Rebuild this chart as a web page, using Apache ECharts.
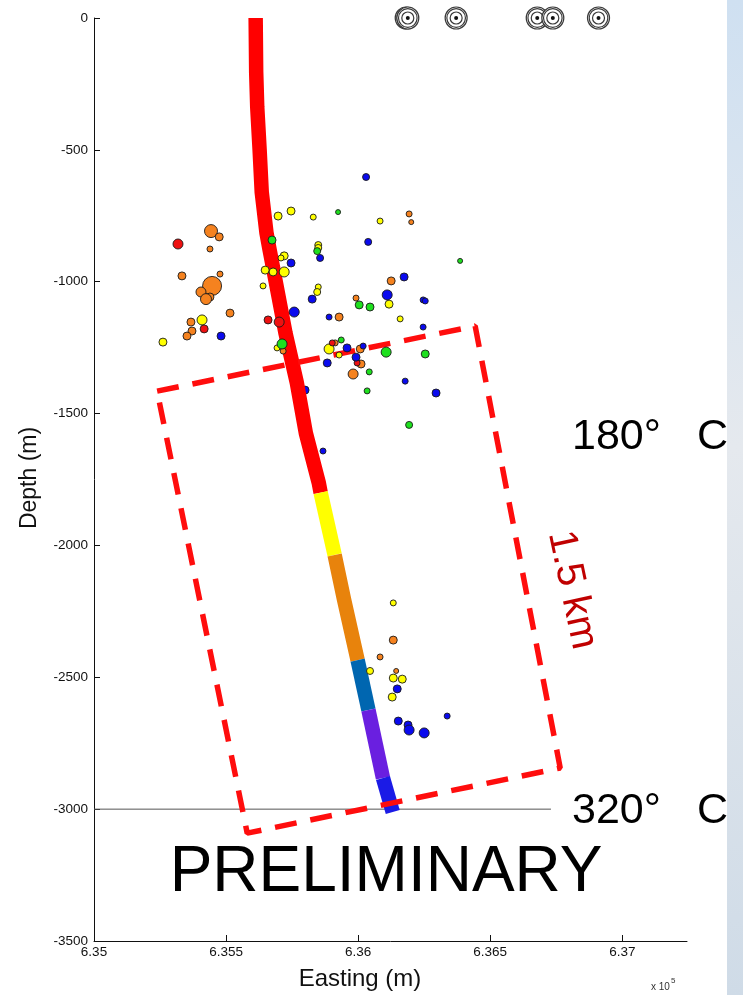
<!DOCTYPE html>
<html>
<head>
<meta charset="utf-8">
<title>Microseismicity and well trajectory</title>
<script src="https://cdn.jsdelivr.net/npm/echarts@6/dist/echarts.min.js"></script>
<style>
  html, body { margin: 0; padding: 0; background: #ffffff; }
  #chart { width: 743px; height: 995px; }
</style>
</head>
<body>
<div id="chart"></div>
<script>
// ---- axis ticks ----
const eastingTicks = [635000, 635500, 636000, 636500, 637000];
const depthTicks = [0, -500, -1000, -1500, -2000, -2500, -3000, -3500];

// ---- well trajectory (easting m, depth m) ----
const wellEasting = [635612, 635614, 635618, 635627, 635635, 635653, 635665, 635689, 635725, 635768, 635802, 635851, 635858, 635911, 635947, 635998, 636039, 636094, 636131];
const wellDepth   = [0, -205, -338, -500, -660, -815, -880, -1005, -1195, -1384, -1574, -1763, -1800, -2036, -2207, -2435, -2624, -2882, -3011];
// depth intervals along the well (top, bottom) and their colours
const wellBandTop    = [0, -1800, -2036, -2435, -2624, -2882];
const wellBandBottom = [-1800, -2036, -2435, -2624, -2882, -3011];
const wellBandColor  = ['#ff0000', '#ffff00', '#e8830c', '#0066b0', '#6a1fe0', '#1b1be6'];

// ---- surface seismic stations (easting m) ----
const stationEasting = [636182, 636188, 636371, 636678, 636737, 636910];

// ---- located events: [easting m, depth m, magnitude] ----
const orangeEvents = [
  [636193, -743, 0.75], [636201, -774, 0.5], [635443, -808, 2.5], [635474, -830, 1.25],
  [635439, -876, 0.75], [635333, -978, 1.25], [635477, -971, 0.75], [636125, -997, 1.25],
  [635447, -1016, 4.0], [635405, -1039, 1.75], [635439, -1058, 1.25], [635424, -1066, 2.0],
  [635992, -1062, 0.75], [635515, -1119, 1.25], [635928, -1134, 1.25], [635367, -1153, 1.25],
  [635371, -1187, 1.25], [635352, -1206, 1.25], [635716, -1263, 0.75], [635913, -1232, 0.75],
  [636008, -1255, 1.25], [636011, -1312, 1.25], [635981, -1350, 1.75],
  [636133, -2359, 1.25], [636083, -2423, 0.75], [636144, -2476, 0.5]
];
const yellowEvents = [
  [635697, -751, 1.25], [635746, -732, 1.25], [635830, -755, 0.75], [636083, -770, 0.75],
  [635849, -861, 1.0], [635849, -872, 1.0], [635720, -902, 1.25], [635708, -910, 0.75],
  [635648, -956, 1.25], [635678, -963, 1.25], [635720, -963, 1.75], [635640, -1016, 0.75],
  [635849, -1020, 0.75], [635845, -1039, 1.0], [636117, -1085, 1.25], [636159, -1141, 0.75],
  [635409, -1145, 1.75], [635261, -1229, 1.25], [635693, -1251, 0.75], [635890, -1255, 1.75],
  [635928, -1278, 0.75], [636133, -2218, 0.75], [636045, -2476, 1.0], [636133, -2503, 1.25],
  [636167, -2507, 1.25], [636129, -2575, 1.25]
];
const redEvents = [
  [635318, -857, 1.75], [635659, -1145, 1.25], [635701, -1153, 1.75], [635417, -1179, 1.25],
  [635902, -1232, 0.75], [635996, -1308, 0.75]
];
const greenEvents = [
  [635924, -736, 0.5], [635674, -842, 1.25], [635845, -884, 1.0], [636386, -921, 0.5],
  [636004, -1088, 1.25], [636045, -1096, 1.25], [635712, -1236, 1.75], [635936, -1221, 0.75],
  [636106, -1267, 1.75], [636254, -1274, 1.25], [636042, -1342, 0.75], [636034, -1414, 0.75],
  [636193, -1543, 1.0]
];
const blueEvents = [
  [636030, -603, 1.0], [636038, -849, 1.0], [635856, -910, 1.0], [635746, -929, 1.25],
  [636174, -982, 1.25], [635826, -1066, 1.25], [636110, -1050, 1.75], [636246, -1069, 0.75],
  [636254, -1073, 0.75], [635758, -1115, 1.75], [635890, -1134, 0.75], [635481, -1206, 1.25],
  [636246, -1172, 0.75], [635958, -1251, 1.25], [636019, -1244, 0.75], [635992, -1286, 1.25],
  [635883, -1308, 1.25], [636178, -1377, 0.75], [636295, -1422, 1.25],
  [635867, -1642, 0.75], [636148, -2544, 1.25], [636152, -2666, 1.25], [636189, -2681, 1.25],
  [636193, -2700, 1.75], [636250, -2711, 1.75], [636337, -2647, 0.75]
];
// event lying just behind the well path
const blueEventsBehindWell = [[635799, -1411, 1.25]];

// ---- study volume outline (corners, easting m / depth m) ----
const boxEasting = [635239, 636443, 636765, 635580, 635239];
const boxDepth   = [-1415, -1168, -2844, -3091, -1415];

// ---- isotherm reference depth ----
const isothermDepth = -3000;
const isothermEnd = [635000, 636730];

const chart = echarts.init(document.getElementById('chart'), null, { renderer: 'canvas' });

const tickFont = "'Liberation Sans', Arial, sans-serif";

function wellSegment(i) {
  const pts = [];
  for (let k = 0; k < wellDepth.length; k++) {
    if (wellDepth[k] <= wellBandTop[i] && wellDepth[k] >= wellBandBottom[i]) {
      pts.push([wellEasting[k], wellDepth[k]]);
    }
  }
  return pts;
}

function eventSeries(name, data, color, z) {
  return {
    name: name,
    type: 'scatter',
    data: data,
    z: z,
    symbol: 'circle',
    symbolSize: d => 3 + 4 * d[2],
    itemStyle: { color: color, borderColor: '#1a1a1a', borderWidth: 0.9, opacity: 1 },
    emphasis: { disabled: true },
    animation: false
  };
}

const series = [];

// isotherm line
series.push({
  type: 'line',
  data: [[isothermEnd[0], isothermDepth], [isothermEnd[1], isothermDepth]],
  symbol: 'none',
  lineStyle: { color: '#555555', width: 1 },
  z: 1,
  animation: false
});

series.push(eventSeries('blue-hidden', blueEventsBehindWell, '#0a0aee', 1));

// well, coloured by interval
for (let i = 0; i < wellBandColor.length; i++) {
  series.push({
    type: 'line',
    data: wellSegment(i),
    symbol: 'none',
    lineStyle: { color: wellBandColor[i], width: 14.5, cap: 'butt', join: 'round' },
    z: 2,
    animation: false
  });
}

// dashed study volume
series.push({
  type: 'line',
  data: boxEasting.map((e, k) => [e, boxDepth[k]]),
  symbol: 'none',
  lineStyle: { color: '#ff0d0d', width: 5.5, type: [22, 14], cap: 'butt' },
  z: 3,
  animation: false
});

series.push(eventSeries('orange', orangeEvents, '#f5821f', 4));
series.push(eventSeries('yellow', yellowEvents, '#ffff00', 4));
series.push(eventSeries('red', redEvents, '#ee1111', 4));
series.push(eventSeries('green', greenEvents, '#1ee01e', 4));
series.push(eventSeries('blue', blueEvents, '#0a0aee', 4));

// surface stations
series.push({
  type: 'custom',
  data: stationEasting.map(e => [e, 0]),
  clip: false,
  z: 5,
  renderItem: function (params, api) {
    const p = api.coord([api.value(0), api.value(1)]);
    const ring = r => ({
      type: 'circle',
      shape: { cx: p[0], cy: p[1], r: r },
      style: { fill: '#ffffff', stroke: '#3a3a3a', lineWidth: 1.2 }
    });
    return {
      type: 'group',
      children: [
        ring(11), ring(9.3), ring(6),
        { type: 'circle', shape: { cx: p[0], cy: p[1], r: 2 }, style: { fill: '#111111' } }
      ]
    };
  },
  animation: false
});

const option = {
  backgroundColor: '#ffffff',
  animation: false,
  grid: { left: 94, top: 18, right: 56, bottom: 54, containLabel: false },
  xAxis: {
    type: 'value',
    min: 635000,
    max: 637245,
    position: 'bottom',
    axisLine: { show: true, onZero: false, lineStyle: { color: '#111111', width: 1 } },
    axisTick: { show: true, inside: true, length: 6, lineStyle: { color: '#111111' }, customValues: eastingTicks },
    axisLabel: {
      customValues: eastingTicks,
      formatter: v => String(parseFloat((v / 1e5).toFixed(4))),
      color: '#111111', fontFamily: tickFont, fontSize: 13.5, margin: 4
    },
    splitLine: { show: false }
  },
  yAxis: {
    type: 'value',
    min: -3500,
    max: 0,
    interval: 500,
    position: 'left',
    axisLine: { show: true, onZero: false, lineStyle: { color: '#111111', width: 1 } },
    axisTick: { show: true, inside: true, length: 6, lineStyle: { color: '#111111' }, customValues: depthTicks },
    axisLabel: {
      customValues: depthTicks,
      formatter: v => String(v),
      color: '#111111', fontFamily: tickFont, fontSize: 13.5, margin: 6
    },
    splitLine: { show: false }
  },
  series: series,
  graphic: [
    {
      type: 'rect', left: 727, top: 0, z: 100, silent: true,
      shape: { width: 16, height: 995 },
      style: {
        fill: new echarts.graphic.LinearGradient(0, 0, 0, 1, [
          { offset: 0, color: '#cfe0f1' },
          { offset: 0.45, color: '#e5e9ee' },
          { offset: 1, color: '#cfdbe7' }
        ])
      }
    },
    {
      type: 'text', x: 360, y: 979, z: 100, silent: true,
      style: { text: 'Easting (m)', font: "24px 'Liberation Sans', Arial, sans-serif", fill: '#111111', align: 'center', verticalAlign: 'middle' }
    },
    {
      type: 'text', x: 30, y: 478, rotation: Math.PI / 2, z: 100, silent: true,
      style: { text: 'Depth (m)', font: "23px 'Liberation Sans', Arial, sans-serif", fill: '#111111', align: 'center', verticalAlign: 'middle' }
    },
    {
      type: 'text', x: 651, y: 987, z: 100, silent: true,
      style: { text: 'x 10', font: "10px 'Liberation Sans', Arial, sans-serif", fill: '#333333', align: 'left', verticalAlign: 'middle' }
    },
    {
      type: 'text', x: 671, y: 981, z: 100, silent: true,
      style: { text: '5', font: "8px 'Liberation Sans', Arial, sans-serif", fill: '#333333', align: 'left', verticalAlign: 'middle' }
    },
    {
      type: 'text', x: 572, y: 437, z: 100, silent: true,
      style: { text: '180°', font: "43px 'Liberation Sans', Arial, sans-serif", fill: '#000000', align: 'left', verticalAlign: 'middle' }
    },
    {
      type: 'text', x: 697, y: 437, z: 100, silent: true,
      style: { text: 'C', font: "43px 'Liberation Sans', Arial, sans-serif", fill: '#000000', align: 'left', verticalAlign: 'middle' }
    },
    {
      type: 'text', x: 572, y: 811, z: 100, silent: true,
      style: { text: '320°', font: "43px 'Liberation Sans', Arial, sans-serif", fill: '#000000', align: 'left', verticalAlign: 'middle' }
    },
    {
      type: 'text', x: 697, y: 811, z: 100, silent: true,
      style: { text: 'C', font: "43px 'Liberation Sans', Arial, sans-serif", fill: '#000000', align: 'left', verticalAlign: 'middle' }
    },
    {
      type: 'text', x: 386, y: 873, z: 100, silent: true,
      style: { text: 'PRELIMINARY', font: "64px 'Liberation Sans', Arial, sans-serif", fill: '#000000', align: 'center', verticalAlign: 'middle' }
    },
    {
      type: 'text', x: 572, y: 590, rotation: -78 * Math.PI / 180, z: 100, silent: true,
      style: { text: '1.5 km', font: "40px 'Liberation Sans', Arial, sans-serif", fill: '#c00000', align: 'center', verticalAlign: 'middle' }
    }
  ]
};

chart.setOption(option);
</script>
</body>
</html>
